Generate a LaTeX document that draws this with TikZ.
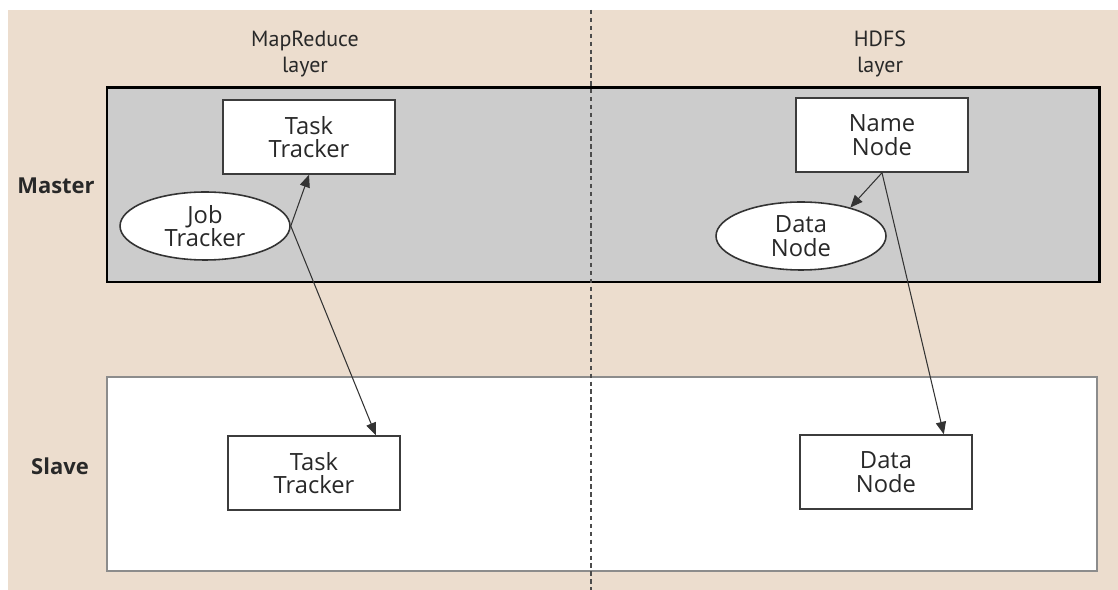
\documentclass[tikz,border=0pt]{standalone}
\usepackage{fontspec}
\setmainfont{Open Sans}
\newfontfamily\layerfont{PT Sans}
\usetikzlibrary{positioning}
\usetikzlibrary{arrows}
\usetikzlibrary{shapes.geometric}
\definecolor{paper}{RGB}{236,221,206}
\definecolor{masterfill}{RGB}{204,204,204}
\definecolor{edge}{RGB}{60,60,60}
\definecolor{ink}{RGB}{40,40,40}
\tikzstyle{every box} = [font=\fontsize{13.5}{13.5}\selectfont, text=ink, align=center]
\tikzstyle{box} = [draw=edge, fill=white, line width=0.9pt, minimum width=3.44cm, minimum height=1.48cm, every box]
\tikzstyle{oval} = [ellipse, draw=black!80, fill=white, line width=0.9pt, minimum width=3.4cm, minimum height=1.36cm, inner sep=0pt, every box]
\tikzstyle{link} = [>=triangle 45, ->, draw=black!80, line width=0.6pt]
\tikzstyle{layer} = [font=\layerfont\fontsize{12.5}{14.5}\selectfont, text=ink, align=center]
\tikzstyle{role} = [font=\bfseries\fontsize{12.5}{14}\selectfont, text=ink]

\begin{document}
\begin{tikzpicture}[x=0.02cm, y=-0.02cm]
        \useasboundingbox (0,0) rectangle (1118,590);
        \fill[paper] (8,10) rectangle (1118,590);

        % master and slave bands
        \filldraw[fill=masterfill, draw=black, line width=1.7pt] (107,88) rectangle (1099,282);
        \filldraw[fill=white, draw=black!45, line width=1.2pt] (107,377) rectangle (1097,571);
        \draw[black!70, line width=1.2pt, dash pattern=on 2.5pt off 2pt] (591,10) -- (591,590);

        \node[layer] (mrlayer) at (305,54) {MapReduce\\layer};
        \node[layer] (hdfslayer) at (880,54) {HDFS\\layer};
        \node[role] (master) at (56,186) {Master};
        \node[role] (slave) at (60,466) {Slave};

        % MapReduce side
        \node[box] (tasktm) at (309,137) {Task\\Tracker};
        \node[oval] (jobt) at (205,226) {Job\\Tracker};
        \node[box] (taskts) at (314,473) {Task\\Tracker};

        % HDFS side
        \node[box] (namen) at (882,135) {Name\\Node};
        \node[oval] (datanm) at (801,236) {Data\\Node};
        \node[box] (datans) at (886,472) {Data\\Node};

        \path[link] (jobt.east) -- (tasktm.south);
        \path[link] (jobt.east) -- ([xshift=-0.5cm]taskts.north east);
        \path[link] (namen.south) -- (datanm.30);
        \path[link] (namen.south) -- ([xshift=-0.58cm]datans.north east);
\end{tikzpicture}
\end{document}
